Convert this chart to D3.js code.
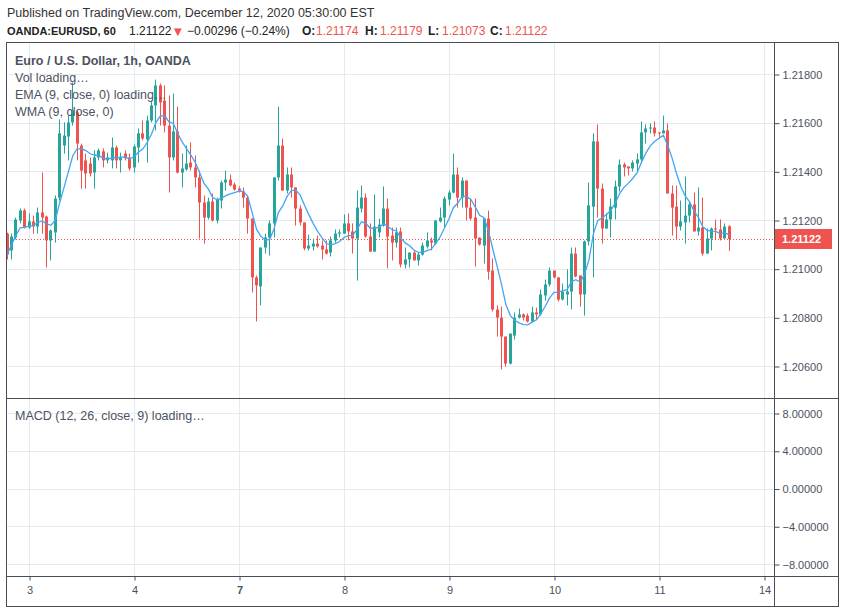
<!DOCTYPE html>
<html>
<head>
<meta charset="utf-8">
<script src="https://cdn.jsdelivr.net/npm/d3@7"></script>
<style>
body { margin: 0; background: #fff; }
svg { display: block; font-family: "Liberation Sans", Arial, sans-serif; }
</style>
</head>
<body>
<script>
// hourly candles, [open, high, low, close]
var candles = [
[1.21144,1.21148,1.21038,1.21058],[1.21075,1.21144,1.21038,1.21132],[1.21128,1.21210,1.21120,1.21202],
[1.21198,1.21247,1.21186,1.21239],[1.21239,1.21247,1.21165,1.21169],[1.21169,1.21227,1.21163,1.21194],
[1.21194,1.21218,1.21144,1.21173],[1.21173,1.21251,1.21144,1.21231],[1.21231,1.21395,1.21144,1.21210],
[1.21214,1.21218,1.21005,1.21116],[1.21116,1.21161,1.21034,1.21157],[1.21149,1.21301,1.21107,1.21288],
[1.21292,1.21613,1.21280,1.21556],[1.21506,1.21601,1.21473,1.21547],[1.21543,1.21629,1.21445,1.21601],
[1.21601,1.21765,1.21588,1.21650],[1.21642,1.21650,1.21445,1.21514],[1.21506,1.21514,1.21329,1.21403],
[1.21445,1.21473,1.21329,1.21391],[1.21432,1.21457,1.21379,1.21391],[1.21395,1.21486,1.21329,1.21457],
[1.21457,1.21494,1.21445,1.21486],[1.21482,1.21494,1.21416,1.21445],[1.21445,1.21477,1.21432,1.21457],
[1.21445,1.21539,1.21412,1.21498],[1.21498,1.21506,1.21412,1.21445],[1.21445,1.21477,1.21395,1.21457],
[1.21473,1.21486,1.21445,1.21453],[1.21457,1.21473,1.21403,1.21412],[1.21416,1.21510,1.21395,1.21502],
[1.21498,1.21576,1.21436,1.21556],[1.21556,1.21609,1.21527,1.21535],[1.21531,1.21629,1.21436,1.21609],
[1.21609,1.21691,1.21601,1.21671],[1.21671,1.21777,1.21568,1.21753],[1.21753,1.21761,1.21588,1.21683],
[1.21691,1.21753,1.21560,1.21588],[1.21588,1.21712,1.21313,1.21457],[1.21457,1.21720,1.21445,1.21564],
[1.21564,1.21666,1.21391,1.21395],[1.21395,1.21473,1.21334,1.21412],[1.21408,1.21506,1.21403,1.21432],
[1.21436,1.21519,1.21403,1.21416],[1.21416,1.21465,1.21334,1.21375],[1.21375,1.21403,1.21124,1.21272],
[1.21272,1.21301,1.21103,1.21210],[1.21210,1.21292,1.21202,1.21276],[1.21276,1.21309,1.21194,1.21198],
[1.21198,1.21292,1.21186,1.21284],[1.21280,1.21362,1.21247,1.21354],[1.21354,1.21403,1.21321,1.21366],
[1.21366,1.21387,1.21338,1.21342],[1.21346,1.21354,1.21321,1.21325],[1.21329,1.21338,1.21313,1.21321],
[1.21317,1.21334,1.21251,1.21292],[1.21292,1.21301,1.21144,1.21206],[1.21206,1.21206,1.20902,1.20964],
[1.20964,1.20972,1.20783,1.20931],[1.20927,1.21087,1.20849,1.21087],[1.21087,1.21144,1.21062,1.21128],
[1.21128,1.21198,1.21054,1.21186],[1.21186,1.21375,1.21128,1.21375],[1.21375,1.21666,1.21362,1.21506],
[1.21506,1.21535,1.21321,1.21321],[1.21321,1.21416,1.21309,1.21387],[1.21387,1.21416,1.21292,1.21334],
[1.21334,1.21334,1.21177,1.21247],[1.21247,1.21260,1.21177,1.21190],[1.21190,1.21190,1.21075,1.21083],
[1.21083,1.21140,1.21075,1.21095],[1.21091,1.21124,1.21075,1.21103],[1.21103,1.21136,1.21087,1.21091],
[1.21095,1.21116,1.21038,1.21079],[1.21079,1.21116,1.21058,1.21062],[1.21066,1.21132,1.21050,1.21116],
[1.21116,1.21161,1.21107,1.21144],[1.21144,1.21161,1.21128,1.21149],[1.21144,1.21223,1.21144,1.21186],
[1.21186,1.21227,1.21116,1.21153],[1.21153,1.21186,1.21062,1.21124],[1.21124,1.21321,1.20951,1.21251],
[1.21247,1.21342,1.21231,1.21292],[1.21292,1.21309,1.21128,1.21132],[1.21132,1.21186,1.21070,1.21070],
[1.21070,1.21305,1.21070,1.21173],[1.21149,1.21206,1.21128,1.21181],[1.21177,1.21338,1.21173,1.21247],
[1.21247,1.21288,1.21001,1.21132],[1.21136,1.21169,1.21034,1.21107],[1.21107,1.21169,1.21087,1.21149],
[1.21153,1.21169,1.21005,1.21017],[1.21017,1.21087,1.21001,1.21038],[1.21038,1.21066,1.21005,1.21066],
[1.21066,1.21075,1.21034,1.21034],[1.21034,1.21066,1.21013,1.21058],[1.21058,1.21107,1.21054,1.21095],
[1.21091,1.21149,1.21083,1.21116],[1.21116,1.21128,1.21075,1.21107],[1.21103,1.21198,1.21099,1.21198],
[1.21194,1.21251,1.21190,1.21210],[1.21210,1.21297,1.21169,1.21288],[1.21284,1.21321,1.21260,1.21313],
[1.21313,1.21473,1.21309,1.21387],[1.21387,1.21416,1.21251,1.21292],[1.21292,1.21375,1.21251,1.21362],
[1.21362,1.21362,1.21198,1.21251],[1.21251,1.21288,1.21198,1.21206],[1.21210,1.21288,1.21009,1.21124],
[1.21128,1.21128,1.21095,1.21099],[1.21095,1.21206,1.21021,1.21206],[1.21206,1.21239,1.20955,1.20988],
[1.20992,1.21042,1.20824,1.20832],[1.20832,1.20849,1.20721,1.20799],[1.20799,1.20844,1.20586,1.20721],
[1.20721,1.20721,1.20598,1.20610],[1.20610,1.20733,1.20606,1.20733],[1.20725,1.20820,1.20709,1.20799],
[1.20799,1.20836,1.20795,1.20812],[1.20812,1.20816,1.20787,1.20799],[1.20807,1.20816,1.20779,1.20783],
[1.20783,1.20844,1.20779,1.20820],[1.20820,1.20840,1.20791,1.20812],[1.20812,1.20914,1.20807,1.20894],
[1.20890,1.20955,1.20869,1.20935],[1.20935,1.21005,1.20927,1.20992],[1.20992,1.20992,1.20960,1.20964],
[1.20964,1.20964,1.20865,1.20873],[1.20873,1.20939,1.20869,1.20906],[1.20894,1.20997,1.20849,1.20906],
[1.20906,1.21087,1.20832,1.21062],[1.21062,1.21087,1.20964,1.20968],[1.20972,1.20972,1.20844,1.20894],
[1.20894,1.21116,1.20807,1.21112],[1.21112,1.21354,1.21095,1.21260],[1.21255,1.21556,1.20964,1.21523],
[1.21523,1.21593,1.21210,1.21329],[1.21329,1.21350,1.21103,1.21165],[1.21165,1.21227,1.21165,1.21202],
[1.21202,1.21288,1.21128,1.21255],[1.21251,1.21362,1.21202,1.21338],[1.21338,1.21449,1.21317,1.21428],
[1.21428,1.21436,1.21379,1.21416],[1.21420,1.21420,1.21383,1.21412],[1.21412,1.21445,1.21399,1.21436],
[1.21432,1.21473,1.21395,1.21449],[1.21449,1.21605,1.21432,1.21560],[1.21560,1.21593,1.21514,1.21576],
[1.21576,1.21597,1.21556,1.21580],[1.21580,1.21605,1.21543,1.21556],[1.21560,1.21560,1.21535,1.21556],
[1.21556,1.21629,1.21556,1.21568],[1.21568,1.21597,1.21309,1.21309],[1.21309,1.21342,1.21136,1.21251],
[1.21255,1.21342,1.21120,1.21173],[1.21173,1.21280,1.21157,1.21194],[1.21190,1.21379,1.21103,1.21218],
[1.21218,1.21272,1.21190,1.21264],[1.21264,1.21313,1.21153,1.21153],[1.21153,1.21334,1.21136,1.21169],
[1.21169,1.21292,1.21054,1.21062],[1.21062,1.21165,1.21062,1.21124],[1.21124,1.21169,1.21075,1.21165],
[1.21165,1.21202,1.21120,1.21161],[1.21161,1.21202,1.21116,1.21124],[1.21124,1.21186,1.21124,1.21173],
[1.21174,1.21179,1.21073,1.21122]
];

var dayLabels = ["3", "4", "7", "8", "9", "10", "11", "14"];
var dayBars = [5, 29, 53, 77, 101, 125, 149, 173]; // bar index of each midnight
var boldDays = ["7"];
var priceTicks = [1.206, 1.208, 1.210, 1.212, 1.214, 1.216, 1.218];
var macdTicks = [8, 4, 0, -4, -8];
var lastPrice = 1.21122;
var prevClose = 1.21418;
var wmaLength = 9;

var headerTitle = "Published on TradingView.com, December 12, 2020 05:30:00 EST";
var legendLines = ["Vol loading…", "EMA (9, close, 0) loading…", "WMA (9, close, 0)"];

var up = "#26a69a", down = "#ef5350", lineCol = "#4a4d57", gridCol = "#e3ebf1", textCol = "#4c525e";

var W = 845, H = 612;
// pane edges (not named top/left: those clash with window globals)
var paneLeft = 7, paneRight = 774, axisRight = 838;
var paneTop = 43, paneSplit = 398, timeTop = 576, paneBottom = 606;

var svg = d3.select("body").append("svg")
	.attr("width", W)
	.attr("height", H);

var x = d3.scaleLinear().domain([5, 149]).range([29, 659]);
var y = d3.scaleLinear().domain([1.206, 1.218]).range([366, 74]);
var yMacd = d3.scaleLinear().domain([-8, 8]).range([564, 413]);

// grid
var grid = svg.append("g");
dayBars.forEach(function(b) {
	grid.append("line")
		.attr("x1", Math.round(x(b)) + 0.5).attr("x2", Math.round(x(b)) + 0.5)
		.attr("y1", paneTop).attr("y2", timeTop)
		.attr("stroke", gridCol);
});
priceTicks.forEach(function(p) {
	grid.append("line")
		.attr("x1", paneLeft).attr("x2", paneRight)
		.attr("y1", Math.round(y(p)) + 0.5).attr("y2", Math.round(y(p)) + 0.5)
		.attr("stroke", gridCol);
});
macdTicks.forEach(function(m) {
	grid.append("line")
		.attr("x1", paneLeft).attr("x2", paneRight)
		.attr("y1", Math.round(yMacd(m)) + 0.5).attr("y2", Math.round(yMacd(m)) + 0.5)
		.attr("stroke", gridCol);
});

// clip for the price pane
svg.append("clipPath").attr("id", "pane")
	.append("rect")
	.attr("x", paneLeft).attr("y", paneTop)
	.attr("width", paneRight - paneLeft).attr("height", paneSplit - paneTop);

var plot = svg.append("g").attr("clip-path", "url(#pane)");

// last price dotted line
plot.append("line")
	.attr("x1", paneLeft).attr("x2", paneRight)
	.attr("y1", Math.round(y(lastPrice)) + 0.5).attr("y2", Math.round(y(lastPrice)) + 0.5)
	.attr("stroke", down)
	.attr("stroke-dasharray", "1,2");

// candles
var bars = plot.selectAll("g.bar")
	.data(candles)
	.enter().append("g")
	.attr("class", "bar");

bars.append("rect")
	.attr("x", function(d, i) { return Math.round(x(i) - 1.5) + 1; })
	.attr("y", function(d) { return y(d[1]); })
	.attr("width", 1)
	.attr("height", function(d) { return Math.max(1, y(d[2]) - y(d[1])); })
	.attr("fill", function(d) { return d[3] >= d[0] ? up : down; });

bars.append("rect")
	.attr("x", function(d, i) { return Math.round(x(i) - 1.5); })
	.attr("y", function(d) { return y(Math.max(d[0], d[3])); })
	.attr("width", 3)
	.attr("height", function(d) { return Math.max(1, Math.abs(y(d[0]) - y(d[3]))); })
	.attr("fill", function(d) { return d[3] >= d[0] ? up : down; });

// weighted moving average of closes
var closes = candles.map(function(d) { return d[3]; });
var wma = closes.map(function(c, i) {
	var sum = 0, wsum = 0;
	for (var k = 0; k < wmaLength && i - k >= 0; k++) {
		var w = wmaLength - k;
		sum += closes[i - k] * w;
		wsum += w;
	}
	return sum / wsum;
});

plot.append("path")
	.datum(wma)
	.attr("fill", "none")
	.attr("stroke", "#42a5f5")
	.attr("stroke-width", 1.3)
	.attr("d", d3.line()
		.x(function(d, i) { return x(i); })
		.y(function(d) { return y(d); }));

// frame
var frame = svg.append("g").attr("stroke", lineCol).attr("fill", "none");
frame.append("rect")
	.attr("x", paneLeft - 0.5).attr("y", paneTop - 0.5)
	.attr("width", axisRight - paneLeft + 1).attr("height", paneBottom - paneTop + 1);
frame.append("line").attr("x1", paneRight + 0.5).attr("x2", paneRight + 0.5).attr("y1", paneTop).attr("y2", paneBottom);
frame.append("line").attr("x1", paneLeft).attr("x2", axisRight).attr("y1", paneSplit + 0.5).attr("y2", paneSplit + 0.5);
frame.append("line").attr("x1", paneLeft).attr("x2", axisRight).attr("y1", timeTop + 0.5).attr("y2", timeTop + 0.5);

// axes
var priceAxis = svg.append("g")
	.attr("transform", "translate(" + (paneRight + 0.5) + ",0.5)")
	.call(d3.axisRight(y).tickValues(priceTicks).tickFormat(d3.format(".5f")).tickSize(5).tickPadding(3));

var macdAxis = svg.append("g")
	.attr("transform", "translate(" + (paneRight + 0.5) + ",0.5)")
	.call(d3.axisRight(yMacd).tickValues(macdTicks).tickFormat(d3.format(".5f")).tickSize(5).tickPadding(3));

var timeAxis = svg.append("g")
	.attr("transform", "translate(0.5," + (timeTop + 0.5) + ")")
	.call(d3.axisBottom(x).tickValues(dayBars)
		.tickFormat(function(d, i) { return dayLabels[i]; })
		.tickSize(4).tickPadding(6));

[priceAxis, macdAxis, timeAxis].forEach(function(a) {
	a.select(".domain").remove();
	a.selectAll("line").attr("stroke", lineCol);
	a.selectAll("text")
		.attr("fill", textCol)
		.style("font-size", "11px")
		.style("font-family", "'Liberation Sans', Arial, sans-serif");
});
timeAxis.selectAll("text")
	.style("font-weight", function(d, i) { return boldDays.indexOf(dayLabels[i]) >= 0 ? "bold" : "normal"; });

// last price badge
var badgeY = Math.round(y(lastPrice));
svg.append("rect")
	.attr("x", paneRight + 1).attr("y", badgeY - 10)
	.attr("width", 57).attr("height", 20)
	.attr("fill", down);
svg.append("text")
	.attr("x", paneRight + 8).attr("y", badgeY + 4)
	.attr("fill", "#fff")
	.style("font-size", "11px")
	.style("font-weight", "bold")
	.text(d3.format(".5f")(lastPrice));

// header
svg.append("text")
	.attr("x", 7).attr("y", 17)
	.attr("fill", "#333")
	.style("font-size", "12.5px")
	.text(headerTitle);

var last = candles[candles.length - 1];
var change = lastPrice - prevClose;
var headerParts = [
	{ x: 7, t: "OANDA:EURUSD, 60", bold: true, c: "#222", size: 11 },
	{ x: 129, t: d3.format(".5f")(lastPrice), c: "#222" },
	{ x: 174, t: "▼", c: down, font: "DejaVu Sans", size: 10 },
	{ x: 187, t: d3.format(".5f")(change) + " (" + d3.format(".2%")(change / prevClose) + ")", c: "#222" },
	{ x: 302, t: "O:", bold: true, c: "#222" },
	{ x: 316, t: d3.format(".5f")(last[0]), c: down },
	{ x: 365, t: "H:", bold: true, c: "#222" },
	{ x: 380, t: d3.format(".5f")(last[1]), c: down },
	{ x: 428, t: "L:", bold: true, c: "#222" },
	{ x: 442, t: d3.format(".5f")(last[2]), c: down },
	{ x: 490, t: "C:", bold: true, c: "#222" },
	{ x: 505, t: d3.format(".5f")(last[3]), c: down }
];
headerParts.forEach(function(p) {
	svg.append("text")
		.attr("x", p.x).attr("y", 35)
		.attr("fill", p.c)
		.style("font-size", (p.size || 12) + "px")
		.style("font-weight", p.bold ? "bold" : "normal")
		.style("font-family", p.font ? p.font : null)
		.text(p.t);
});

// pane legends
svg.append("text")
	.attr("x", 15).attr("y", 65)
	.attr("fill", textCol)
	.style("font-size", "12.5px")
	.style("font-weight", "bold")
	.text("Euro / U.S. Dollar, 1h, OANDA");

legendLines.forEach(function(t, i) {
	svg.append("text")
		.attr("x", 15).attr("y", 82 + i * 17)
		.attr("fill", textCol)
		.style("font-size", "12.5px")
		.text(t);
});

svg.append("text")
	.attr("x", 15).attr("y", 420)
	.attr("fill", textCol)
	.style("font-size", "12.5px")
	.text("MACD (12, 26, close, 9) loading…");
</script>
</body>
</html>
